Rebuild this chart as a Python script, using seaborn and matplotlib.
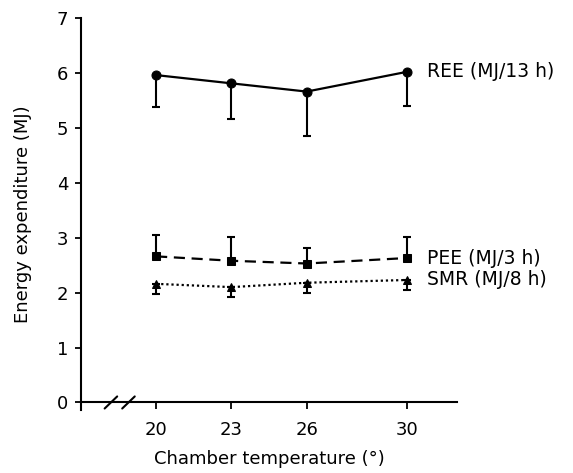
import numpy as np
import pandas as pd
import seaborn as sns
import matplotlib.pyplot as plt

# chamber temperatures and energy expenditure means (MJ) with error bars
temps = [20, 23, 26, 30]
ree = [5.96, 5.81, 5.66, 6.02]
ree_err = [0.58, 0.65, 0.81, 0.63]      # drawn downward only
pee = [2.66, 2.58, 2.53, 2.63]
pee_err = [0.39, 0.44, 0.28, 0.38]      # drawn upward only
smr = [2.16, 2.10, 2.18, 2.23]
smr_err = [0.18, 0.18, 0.18, 0.18]      # drawn downward (upper hidden by marker)
labels = ["REE (MJ/13 h)", "PEE (MJ/3 h)", "SMR (MJ/8 h)"]
yticks = [0, 1, 2, 3, 4, 5, 6, 7]

sns.set_style("ticks")
plt.rcParams['font.family'] = ['DejaVu Sans']
for key in ('text.color', 'axes.labelcolor', 'xtick.color', 'ytick.color',
            'axes.edgecolor'):
    plt.rcParams[key] = 'black'

fig = plt.figure(figsize=(5.73, 4.73), dpi=100)
ax = fig.add_axes([0.141, 0.134, 0.657, 0.828])

series = [
    (ree, ree_err, "o", "-", 6.5, "down"),
    (pee, pee_err, "s", (0, (5, 3)), 5.5, "up"),
    (smr, smr_err, "^", (0, (1, 1.3)), 6, "down"),
]

for (vals, err, mk, ls, ms, side), lab in zip(series, labels):
    df = pd.DataFrame({"temp": temps, "val": vals})
    sns.lineplot(data=df, x="temp", y="val", ax=ax, color="black",
                 marker=mk, markersize=ms, markeredgecolor="black",
                 linestyle=ls, linewidth=1.6, zorder=3)
    zeros = np.zeros(len(err))
    yerr = [err, zeros] if side == "down" else [zeros, err]
    ax.errorbar(temps, vals, yerr=yerr, fmt="none", ecolor="black",
                elinewidth=1.5, capsize=3, capthick=1.5, zorder=2)
    ax.text(30.8, vals[-1], lab, fontsize=13.5, va="center", ha="left",
            clip_on=False)

ax.set_xlim(17, 32)
ax.set_ylim(-0.13, 7)
ax.set_xticks(temps)
ax.set_yticks(yticks)
ax.spines['bottom'].set_position(('data', 0))
ax.spines['left'].set_bounds(-0.13, 7)
ax.spines['top'].set_visible(False)
ax.spines['right'].set_visible(False)
for sp in ('left', 'bottom'):
    ax.spines[sp].set_linewidth(1.5)
ax.tick_params(axis='both', labelsize=13, width=1.3)
ax.tick_params(axis='y', length=4, pad=5)
ax.tick_params(axis='x', length=5, pad=8)

# axis break marks
for x0 in (17.95, 18.65):
    ax.plot([x0, x0 + 0.5], [-0.11, 0.11], color="black", lw=1.5,
            clip_on=False, zorder=4)

ax.set_xlabel("Chamber temperature (°)", fontsize=13, labelpad=8)
ax.set_ylabel("Energy expenditure (MJ)", fontsize=13, labelpad=18)

plt.savefig("out.png", dpi=100)
